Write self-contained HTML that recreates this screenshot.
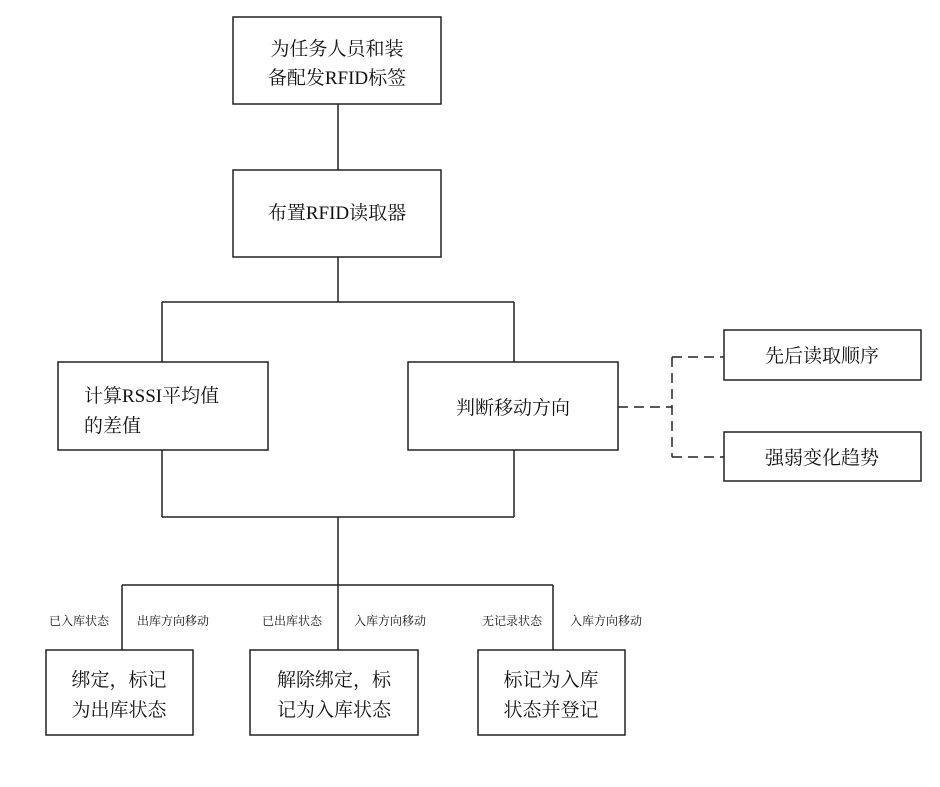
<!DOCTYPE html>
<html><head><meta charset="utf-8"><style>
html,body{margin:0;padding:0;background:#fff;}
svg text{font-family:"Liberation Serif","Noto Serif CJK SC",serif;fill:#111;}
</style></head><body>
<svg width="940" height="782" viewBox="0 0 940 782" xmlns="http://www.w3.org/2000/svg">
<g fill="none" stroke="#222" stroke-width="1.5">
<rect x="233" y="17" width="208" height="87"/>
<rect x="233" y="170" width="208" height="87"/>
<rect x="58" y="362" width="210" height="88"/>
<rect x="408" y="362" width="210" height="88"/>
<rect x="724" y="330" width="197" height="50"/>
<rect x="724" y="432" width="197" height="49"/>
<rect x="46" y="650" width="147" height="85"/>
<rect x="250" y="650" width="168" height="85"/>
<rect x="478" y="650" width="147" height="85"/>
<path d="M338 104V170M338 257V302M162 302H514M162 302V362M514 302V362M162 450V517M514 450V517M162 517H514M338 517V650M122 585H553M122 585V650M553 585V650"/>
</g>
<g fill="none" stroke="#222" stroke-width="1.5" stroke-dasharray="10,6">
<path d="M618 407H672M672 357V457M672 357H724M672 457H724"/>
</g>
<g font-size="19" text-anchor="middle">
<text x="337" y="55">为任务人员和装</text>
<text x="337" y="84">备配发RFID标签</text>
<text x="337" y="219">布置RFID读取器</text>
<text x="513" y="414">判断移动方向</text>
<text x="822" y="362">先后读取顺序</text>
<text x="822" y="464">强弱变化趋势</text>
<text x="119" y="686">绑定，标记</text>
<text x="119" y="716">为出库状态</text>
<text x="334" y="686">解除绑定，标</text>
<text x="334" y="716">记为入库状态</text>
<text x="551" y="686">标记为入库</text>
<text x="551" y="716">状态并登记</text>
</g>
<text x="84" y="402" font-size="19">计算RSSI平均值</text>
<text x="84" y="432" font-size="19">的差值</text>
<g font-size="12" text-anchor="middle">
<text x="79" y="625">已入库状态</text>
<text x="173" y="625">出库方向移动</text>
<text x="292" y="625">已出库状态</text>
<text x="390" y="625">入库方向移动</text>
<text x="512" y="625">无记录状态</text>
<text x="606" y="625">入库方向移动</text>
</g>
</svg>
</body></html>
